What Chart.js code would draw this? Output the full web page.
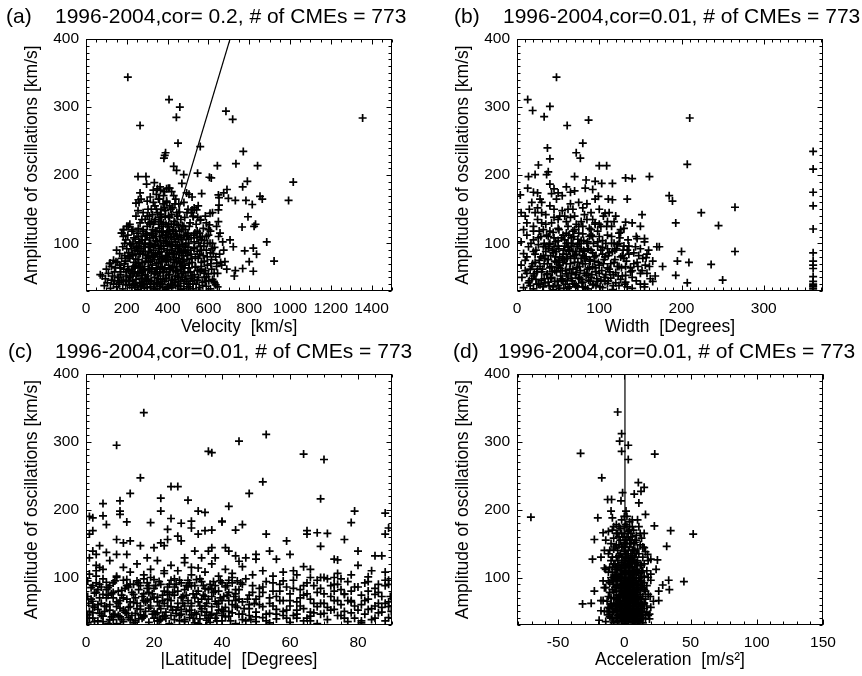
<!DOCTYPE html>
<html>
<head>
<meta charset="utf-8">
<script src="https://cdn.jsdelivr.net/npm/chart.js@4.4.1/dist/chart.umd.min.js"></script>
<style>
  html, body { margin: 0; padding: 0; background: #fff; }
  #wrap { position: relative; width: 862px; height: 676px; background: #fff; }
  canvas { position: absolute; }
</style>
</head>
<body>
<div id="wrap">
  <canvas id="ca" width="431" height="338" style="left:0;top:0"></canvas>
  <canvas id="cb" width="431" height="338" style="left:431px;top:0"></canvas>
  <canvas id="cc" width="431" height="338" style="left:0;top:338px"></canvas>
  <canvas id="cd" width="431" height="338" style="left:431px;top:338px"></canvas>
</div>
<script>
// ---------------- DATA ----------------
const ampTicks = [100, 200, 300, 400];
const velocityTicks = [0, 200, 400, 600, 800, 1000, 1200, 1400];
const widthTicks = [0, 100, 200, 300];
const latitudeTicks = [0, 20, 40, 60, 80];
const accelTicks = [-50, 0, 50, 100, 150];

// (a) velocity [km/s] vs amplitude [km/s]
const velocityAmp = [
 [205,344],[265,273],[407,311],[460,300],[443,285],[451,247],[686,294],[719,282],[1356,284],[560,242],
 [390,233],[382,225],[386,229],[771,235],[735,217],[841,214],[644,214],[1016,190],[993,163],[791,191],
 [768,183],[691,179],[675,174],[605,197],[614,196],[547,203],[479,201],[470,188],[430,213],[444,207],
 [255,198],[294,198],[335,189],[297,187],[493,174],[567,173],[652,167],[698,166],[732,163],[784,163],
 [853,169],[815,157],[864,165],[794,139],[831,128],[824,125],[765,124],[886,102],[922,74],[778,89],
 [820,93],[836,84],[800,73],[820,59],[768,63],[732,60],[727,52],[722,95],[706,105],[657,115],
 [608,144],[605,127],[649,132],[652,156],[649,149],[649,171],[542,149],[526,139],[520,149],[562,134],
 [556,115],[565,105],[608,100],[624,85],[641,71],[665,68],[681,73],[627,44],[636,39],[591,51],[565,66],[510,36],
 [70,54],[118,71],[147,73],[175,115],[183,120],[207,125],[245,159],[257,164],[265,174],[330,178],[363,183],[404,181],[420,176],
 [350,180],[365,178],[385,176],[395,180],[410,181],[430,170],[505,172],[520,168],[270,165],[260,160],[300,162],[315,168],
 [330,160],[345,172],[360,165],[378,158],[395,162],[410,155],[440,165],[455,158],[480,160],[500,150],[530,152],[550,155],
 [215,128],[230,120],[245,140],[255,148],[265,130],[280,145],[290,135],[300,125],[310,140],[320,150],[330,128],[340,135],
 [350,145],[360,122],[370,138],[380,130],[390,148],[400,125],[410,138],[420,142],[430,128],[450,140],[465,135],[480,125],
 [495,145],[510,130],[525,140],[540,128],[560,135],[575,122],[590,130],[600,120],[620,145],[640,125],[185,120],[200,125],
 [175,115],[183,110],[195,105],[205,112],[215,100],[225,118],[235,108],[250,115],[260,102],[270,110],[280,118],[290,105],
 [300,112],[310,100],[320,115],[330,108],[340,118],[350,102],[360,110],[370,116],[380,104],[390,112],[400,100],[410,118],
 [420,108],[430,114],[440,102],[450,110],[460,118],[470,105],[480,112],[490,100],[500,115],[515,108],[530,102],[545,118],
 [560,110],[580,104],[600,112],[620,100],[650,110],[670,102],
 [150,90],[165,85],[180,95],[190,82],[200,92],[210,86],[220,98],[230,82],[240,90],[250,96],[260,84],[270,92],
 [280,88],[290,98],[300,82],[310,94],[320,86],[330,90],[340,98],[350,84],[360,92],[370,88],[380,96],[390,82],
 [400,90],[410,86],[420,98],[430,84],[440,92],[450,88],[460,96],[470,82],[480,90],[490,86],[500,94],[515,84],
 [530,92],[545,88],[560,96],[575,82],[590,90],[610,86],[630,94],[655,84],[675,90],
 [100,62],[115,70],[125,66],[135,75],[145,64],[155,72],[165,68],[175,78],[185,62],[195,74],[205,66],[215,78],
 [225,62],[235,72],[245,68],[255,76],[265,64],[275,72],[285,66],[295,78],[305,62],[315,74],[325,68],[335,76],
 [345,64],[355,72],[365,66],[375,78],[385,62],[395,74],[405,68],[415,76],[425,64],[435,72],[445,66],[455,78],
 [465,62],[475,74],[485,68],[495,76],[505,64],[520,72],[535,66],[550,78],[565,62],[580,74],[595,68],[615,76],
 [640,66],[660,72],[690,62],
 [80,52],[95,48],[110,56],[125,46],[140,58],[155,50],[170,54],[185,46],[200,58],[215,50],[230,55],[245,47],
 [260,57],[275,49],[290,54],[305,46],[320,58],[335,50],[350,55],[365,47],[380,57],[395,49],[410,54],[425,46],
 [440,58],[455,50],[470,55],[485,47],[500,57],[515,49],[530,54],[545,46],[560,58],[580,50],[600,55],[620,47],[645,56],
 [90,38],[105,42],[120,34],[135,40],[150,36],[165,43],[180,33],[195,39],[210,44],[225,35],[240,41],[255,32],
 [270,38],[285,44],[300,35],[315,40],[330,33],[345,42],[360,37],[375,44],[390,32],[405,39],[420,35],[435,43],
 [450,38],[465,32],[480,41],[495,36],[510,44],[525,33],[540,40],[555,35],[570,43],[590,37],[610,33],[630,42],[645,36],
 [260,95],[275,105],[290,88],[305,72],[318,100],[332,82],[342,58],[355,95],[368,78],[378,52],[388,108],[398,80],
 [408,62],[418,90],[428,76],[438,52],[448,98],[458,70],[468,88],[478,58],[300,140],[320,132],[345,150],[365,143],
 [385,152],[405,140],[425,152],[445,145],[280,120],[372,125],[402,118],[432,132],[355,165],[380,170],
 [228,45],[236,58],[244,77],[252,88],[262,42],[268,66],[276,53],[284,95],[292,74],[298,47],[306,88],[312,61],
 [318,36],[324,79],[328,112],[336,55],[338,97],[346,70],[352,42],[358,86],[362,58],[366,104],[372,73],[376,35],
 [382,92],[386,64],[392,48],[396,116],[402,77],[406,54],[412,98],[416,40],[422,84],[426,66],[432,106],[436,47],
 [442,79],[446,60],[452,93],[456,37],[462,72],[466,108],[472,50],[476,86],[484,64],[488,120],[494,44],[498,82],
 [504,100],[512,58],[518,78],[524,40],[532,94],[538,65],[544,108],[552,50],[558,84],[566,72],[572,38],[578,96],
 [586,60],[594,80],[602,45],[612,70],[618,92],[628,56],[636,80],
 [160,40],[168,58],[176,45],[188,70],[196,52],[206,80],[214,38],[222,92],[232,66],[242,106],[248,52],[256,122],
 [266,85],[274,135],[282,60],[296,115],[304,150],[314,128],[326,142],[338,155],[348,118],[358,138],[368,150],[376,112],
 [388,140],[396,160],[406,128],[416,150],[426,120],[436,158],[446,128],[458,146],[470,120],[484,138],[492,110],[506,125],
 [516,145],[534,115],[548,138],[570,110],[585,140],[610,118],
 [240,35],[266,36],[294,40],[322,45],[348,33],[374,40],[398,34],[426,38],[454,44],[478,33],[502,40],[532,46],
 [558,31],[584,44],[230,100],[258,110],[286,100],[312,108],[342,104],[364,96],[394,102],[422,96],[444,112],[474,98],
 [502,106],[528,112],[553,100],[590,110],
 [252,38],[258,70],[264,100],[270,48],[278,84],[286,34],[288,62],[294,112],[302,52],[308,80],[314,44],[316,96],
 [322,64],[326,120],[334,40],[340,84],[344,110],[348,62],[354,48],[356,128],[362,80],[366,40],[370,96],[374,62],
 [378,118],[384,44],[388,76],[392,100],[396,58],[400,36],[404,110],[408,84],[414,62],[418,128],[420,46],[424,98],
 [428,60],[434,84],[438,118],[440,38],[446,74],[450,52],[454,106],[460,86],[464,44],[468,66],[472,126],[480,76],
 [486,96],[490,52],[496,112],[506,70],[512,90],[520,52],[536,80],[546,60],[566,90],[580,56],[596,100],[616,62],
 [220,52],[228,84],[234,40],[240,64],[246,94],[254,56],[272,58],[280,40],[310,130],[336,132],[364,132],[392,128],
 [415,110],[454,126],[488,88],[200,45],[210,60],[190,100],[170,64],[160,50],[130,52],[140,45]
];
const velocityFit = [[336,30],[706,400]];

// (b) width [deg] vs amplitude
const widthAmp = [
 [48,344],[13,311],[19,295],[40,301],[33,286],[61,273],[87,281],[210,284],[207,216],[80,247],
 [37,240],[40,224],[72,233],[77,225],[26,215],[100,214],[109,214],[14,198],[22,201],[38,205],
 [36,201],[70,198],[84,193],[95,191],[103,188],[116,188],[132,196],[140,195],[161,198],[4,171],
 [13,181],[25,174],[40,187],[42,173],[50,174],[60,183],[70,177],[83,181],[92,179],[99,169],
 [111,165],[116,164],[134,165],[185,170],[189,162],[224,145],[265,153],[245,126],[193,130],[265,88],
 [236,69],[250,46],[209,72],[207,42],[195,74],[200,88],[193,53],[177,66],[173,95],[161,66],
 [157,79],[165,44],[155,107],[152,142],[150,125],[146,107],[124,115],[126,120],[118,132],[132,131],
 [107,144],[95,130],
 [360,235],[360,209],[360,175],[360,155],[360,121],[360,86],[360,74],[360,68],[360,63],[360,51],
 [360,44],[360,40],[360,36],[360,33],[360,38],
 [10,140],[15,150],[20,125],[25,135],[30,145],[35,128],[40,155],[45,138],[50,122],[55,148],[60,132],[65,158],
 [70,140],[75,125],[80,152],[85,135],[90,145],[95,128],[100,150],[110,132],[120,140],[130,122],[140,130],[18,160],
 [28,165],[48,165],[58,140],[68,150],[78,132],[88,122],[62,125],
 [5,102],[12,112],[20,105],[27,118],[33,100],[38,110],[44,116],[50,104],[56,112],[62,100],[68,118],[74,106],
 [80,114],[86,102],[92,110],[98,118],[104,104],[110,112],[118,100],[126,116],[135,105],[145,110],[155,102],
 [8,85],[14,95],[20,88],[26,98],[32,82],[38,92],[44,86],[50,96],[56,84],[62,94],[68,88],[74,98],
 [80,82],[86,92],[92,86],[98,96],[104,84],[110,92],[116,88],[122,98],[128,82],[134,90],[142,86],[150,92],
 [158,84],[170,95],
 [5,68],[10,75],[16,62],[22,72],[28,66],[34,78],[40,64],[46,74],[52,68],[58,76],[64,62],[70,72],
 [76,66],[82,78],[88,64],[94,74],[100,68],[106,76],[112,62],[118,72],[124,66],[130,78],[138,64],[146,72],
 [156,68],[165,74],
 [6,50],[12,56],[18,48],[24,58],[30,46],[36,54],[42,50],[48,58],[54,46],[60,55],[66,49],[72,57],
 [78,47],[84,53],[90,50],[96,58],[102,46],[108,54],[114,49],[120,57],[126,47],[132,53],[140,50],[150,56],[162,48],
 [8,35],[14,42],[20,33],[26,40],[32,36],[38,43],[44,32],[50,38],[56,44],[62,34],[68,41],[74,36],
 [80,43],[86,33],[92,39],[98,44],[104,35],[110,41],[116,32],[124,38],[132,43],[140,34],[155,40],
 [45,95],[52,80],[58,105],[64,90],[70,78],[76,100],[82,88],[48,72],[55,60],[66,108],[72,84],[88,76],
 [40,100],[35,88],[60,84],[78,92],
 [10,60],[12,80],[15,45],[17,100],[19,70],[21,55],[23,90],[24,40],[27,75],[29,110],[31,62],[33,48],
 [35,95],[37,70],[39,38],[41,82],[43,58],[45,108],[46,44],[48,88],[50,65],[51,120],[53,52],[55,78],
 [57,34],[58,96],[60,70],[61,46],[63,112],[65,80],[66,56],[68,100],[70,40],[71,88],[73,64],[75,115],
 [76,50],[78,78],[80,36],[81,104],[83,70],[85,56],[87,92],[89,44],[90,120],[92,66],[94,80],[96,38],
 [98,102],[100,56],[102,90],[105,70],[107,44],[109,125],[111,82],[113,58],[115,100],[117,38],[119,76],[121,92],
 [123,52],[125,108],[127,64],[129,90],[131,40],[133,74],[136,96],[138,58],[142,70],[145,45],[148,82],[152,60],
 [155,36],[160,90],[168,52],
 [12,130],[22,145],[32,120],[42,130],[52,140],[62,150],[72,128],[82,142],[92,135],[102,125],[112,145],[30,160],
 [55,170],[75,160],[95,165],[45,180],[65,175],[20,175],[8,120],[5,145],
 [16,38],[18,66],[20,52],[22,84],[23,47],[25,62],[26,108],[28,39],[29,80],[30,58],[32,95],[33,70],
 [34,42],[36,112],[37,55],[38,76],[39,98],[41,48],[42,66],[43,90],[44,36],[46,60],[47,80],[47,102],
 [49,44],[50,75],[51,92],[52,34],[53,63],[54,108],[55,48],[56,72],[57,90],[59,40],[59,60],[60,100],
 [61,78],[62,52],[63,88],[64,36],[65,70],[66,96],[67,45],[68,62],[69,110],[70,82],[71,54],[72,38],
 [73,95],[74,72],[75,48],[76,88],[77,60],[78,104],[79,42],[80,70],[81,90],[82,56],[83,35],[84,80],
 [85,100],[86,62],[87,46],[88,110],[89,74],[90,90],[91,54],[93,40],[93,100],[95,64],[96,82],[97,48],
 [99,72],[100,110],[101,36],[103,60],[104,94],[106,50],[107,80],[108,100],[110,64],[111,45],[112,86],[114,70],
 [115,110],[117,54],[119,90],[120,42],[122,66],[124,100],[126,80],[128,52],[130,96],[132,66],[134,36],[136,84],
 [140,60],[144,95],[147,66],[150,40],[153,78],[158,56],
 [20,118],[30,130],[40,118],[50,135],[60,115],[70,120],[80,125],[90,112],[100,128],[35,142],[65,138],[85,158],
 [25,152],[45,150],[105,140],[115,125]
];

// (c) |latitude| [deg] vs amplitude
const latitudeAmp = [
 [17,343],[9,295],[36,286],[37,284],[45,301],[53,311],[64,282],[70,274],[16,247],[13,224],
 [25,234],[27,234],[22,217],[30,214],[48,224],[52,241],[42,205],[69,216],[69,146],[79,198],
 [88,195],[5,209],[5,191],[10,213],[10,198],[10,193],[1,190],[2,188],[22,198],[25,187],
 [33,198],[35,196],[40,183],[40,182],[19,181],[12,182],[24,171],[28,180],[31,183],[31,173],
 [33,164],[35,169],[37,170],[44,170],[46,178],[53,164],[59,154],[65,164],[65,169],[68,166],
 [71,165],[76,156],[78,181],[80,139],[85,132],[87,132],[88,164],[89,173],[73,127],[74,126],
 [80,118],[83,101],[88,108],[89,96],[86,90],[78,66],[81,36],[83,53],[85,75],[87,56],
 [89,41],[73,66],[76,75],[69,100],[73,100],[75,98],[66,100],[64,116],[61,110],[60,134],
 [56,127],[54,139],[50,134],[50,127],[47,129],[45,124],[44,132],[42,139],[41,144],[37,144],
 [38,129],[34,129],[36,139],[32,139],[31,115],[29,129],[28,154],[27,161],[24,156],[23,147],
 [22,151],[20,144],[18,129],[16,147],[13,154],[12,134],[11,151],[9,156],[9,134],[6,137],
 [4,147],[3,134],[2,139],[1,129],[1,164],[2,169],[6,178],[3,110],[4,115],
 [0.5,95],[2,88],[3.5,82],[5,98],[6.5,85],[8,92],[9.5,80],[11,96],[12.5,86],[14,90],[15.5,82],[17,98],
 [18.5,88],[20,84],[21.5,94],[23,80],[24.5,90],[26,86],[27.5,96],[29,82],[30.5,92],[32,88],[33.5,98],[35,84],
 [36.5,90],[38,80],[39.5,95],[41,86],[43,92],[45,82],[47,98],[49,88],[51,84],[53,94],[55,80],[57,90],
 [59,86],[61,96],[63,82],[65,92],[67,88],[69,84],[71,98],[73,90],[75,82],[77,94],[79,86],[82,92],[85,84],[88,96],
 [0.5,72],[2,65],[3,78],[4.5,62],[6,70],[7.5,76],[9,64],[10.5,74],[12,68],[13.5,78],[15,62],[16.5,72],
 [18,66],[19.5,76],[21,64],[22.5,74],[24,68],[25.5,78],[27,62],[28.5,72],[30,66],[31.5,76],[33,64],[34.5,74],
 [36,68],[37.5,78],[39,62],[40.5,72],[42,66],[44,76],[46,64],[48,74],[50,68],[52,78],[54,62],[56,72],
 [58,66],[60,76],[62,64],[64,74],[66,68],[68,78],[70,62],[72,72],[74,66],[76,76],[78,64],[81,74],
 [83,68],[86,78],[88,62],[89.5,72],
 [1,50],[2.5,56],[4,47],[5.5,58],[7,52],[8.5,46],[10,55],[11.5,49],[13,57],[14.5,47],[16,53],[17.5,50],
 [19,58],[20.5,46],[22,54],[23.5,49],[25,57],[26.5,47],[28,53],[29.5,50],[31,58],[32.5,46],[34,54],[35.5,49],
 [37,57],[38.5,47],[40,53],[42,50],[44,58],[46,46],[48,54],[50,49],[52,57],[54,47],[56,53],[58,50],
 [60,58],[62,46],[64,54],[66,49],[68,57],[70,47],[73,53],[76,50],[79,58],[82,46],[84,54],[87,49],[89,57],
 [0.5,33],[2,40],[3.5,36],[5,43],[6.5,32],[8,38],[9.5,44],[11,35],[12.5,41],[14,33],[15.5,39],[17,44],
 [18.5,34],[20,40],[21.5,36],[23,43],[24.5,32],[26,38],[27.5,44],[29,35],[30.5,41],[32,33],[33.5,39],[35,44],
 [36.5,34],[38,40],[40,36],[42,43],[44,32],[46,38],[48,44],[50,35],[52,41],[54,33],[56,39],[58,44],
 [60,34],[62,40],[64,36],[66,43],[68,32],[71,38],[74,44],[77,35],[81,33],[85,40],[88,36],
 [1,105],[3,118],[5,112],[7,125],[9,102],[11,115],[13,108],[15,120],[17,104],[19,112],[21,125],[23,106],
 [25,118],[27,110],[29,122],[31,104],[33,114],[35,108],[37,120],[39,102],[41,112],[43,106],[46,116],[49,104],
 [52,110],[55,102],[58,108],[62,104],[66,112],[70,100],[74,106],[78,104],[84,110],
 [1,40],[2,58],[3,92],[4,70],[5,35],[6,82],[7,60],[8,45],[9,100],[10,66],[11,52],[12,88],
 [13,38],[14,75],[15,95],[16,58],[17,42],[18,84],[19,68],[20,50],[21,36],[22,90],[23,62],[24,78],
 [25,44],[26,98],[27,56],[28,70],[29,38],[30,86],[31,62],[32,48],[33,80],[34,94],[35,58],[36,40],
 [37,72],[38,88],[39,52],[40,66],[41,42],[42,96],[43,60],[44,82],[45,46],[1.5,85],[2.5,77],[3.5,53],
 [4.5,44],[6,93],[7,38],[8,70],[9,57],[10.5,81],[12,47],[13,64],[14.5,36],[16,88],[17,76],[18.5,55],
 [20,97],[21,71],[22.5,43],[24,86],[25,66],[26.5,52],[28,92],[29.5,74],[31,45],[32.5,97],[34,68],[35.5,37],
 [37,84],[38.5,61],[40,92],[41.5,74],[43,48],[44.5,95],
 [2,48],[4,90],[6,57],[8,78],[10,42],[12,97],[14,63],[16,45],[18,92],[20,70],[22,38],[24,58],
 [26,74],[28,46],[30,96],[32,70],[34,50],[36,82],[38,65],[40,44],[42,78],[44,66],[46,90],[48,60],
 [50,42],[52,86],[54,70],[56,46],[58,95],[60,66],[62,52],[64,88],[66,36],[68,96],[70,76],[72,52],
 [74,90],[76,40],[78,80],[80,52],[82,66],[84,38],[86,62],[88,88],[89.8,50],
 [0.8,62],[3,102],[5,75],[7,88],[9,32],[11,70],[13,90],[15,54],[17,66],[19,100],[21,48],[23,110],
 [25,96],[27,80],[29,58],[31,88],[33,32],[35,72],[37,46],[39,80],[41,56],[43,100],[45,68],[47,36],
 [49,78],[51,60],[53,46],[55,92],[57,66],[59,40],[61,84],[63,58],[65,76],[67,48],[69,62],[72,88],
 [75,60],[78,48],[80,86],[83,80],[86,48],[89,90],
 [0.5,45],[1.5,68],[2.5,35],[3.5,60],[4.5,86],[5.5,50],[6.5,74],[7.5,42],[8.5,95],[9.5,62],[10.5,38],[11.5,84],
 [12.5,56],[13.5,44],[14.5,70],[15.5,92],[16.5,40],[17.5,64],[18.5,78],[19.5,46],[20.5,88],[21.5,58],[22.5,66],[23.5,40],
 [24.5,75],[25.5,52],[26.5,90],[27.5,36],[28.5,62],[29.5,88],[30.5,52],[31.5,40],[32.5,76],[33.5,58],[34.5,88],[35.5,62],
 [36.5,44],[37.5,94],[38.5,36],[39.5,70],[40.5,50],[41.5,88],[42.5,36],[43.5,72],[44.5,56],[45.5,92],[46.5,54],[47.5,68],
 [48.5,38],[49.5,62],[51,72],[53,36],[55,58],[57,80],[59,52],[61,44],[63,70],[65,40],[67,62],[69,46],
 [71,56],[73,80],[75,44],[77,66],[79,40],[81,60],[83,94],[85,58],[87,72],[89,64]
];

// (d) acceleration [m/s^2] vs amplitude
const accelAmp = [
 [-5,344],[-2,312],[-3.5,301],[3,295],[-2,286],[3,274],[-33,283],[23,282],[-17,247],[10.6,240],
 [15,233],[12.6,227],[-1.3,225],[7.5,223],[11,210],[-12.6,215],[-9.6,215],[-2.5,213],[-10,198],[1.3,198],
 [-70.5,189],[-20,188],[-22.6,156],[-16,166],[-9,188],[16,193],[22.7,176],[35,169],[52,164],[32,146],
 [15,144],[17.6,134],[20,127],[25,126],[24,112],[33.5,96],[34,82],[45,94],[29,89],[26,80],
 [26,66],[19.6,72],[19,46],[19,39],[-31.5,61],[-25,62],[-22.6,80],[-24,127],[-17.6,130],[-15,114],
 [-16,95],[-15,85],[-17.6,66],[-17.6,51],[-19,37],
 [-8,158],[-5,165],[-3,172],[-1,160],[1,178],[3,168],[5,155],[7,170],[9,162],[11,175],[-10,150],[-6,178],
 [2,190],[4,182],[6,175],[-2,185],[13,158],[15,165],[0,152],[8,152],[-12,168],[-14,155],[10,185],
 [-12,135],[-10,125],[-8,142],[-6,130],[-4,148],[-2,122],[0,138],[2,128],[4,145],[6,132],[8,140],[10,125],
 [12,148],[14,130],[16,138],[-7,120],[-3,135],[1,145],[5,122],[9,135],[18,125],[-15,140],
 [-12,108],[-9,115],[-7,102],[-5,112],[-3,105],[-1,118],[1,100],[3,110],[5,116],[7,104],[9,112],[11,106],
 [13,118],[15,102],[17,110],[20,105],[-14,112],[-2,110],[2,115],[6,108],
 [-14,85],[-11,92],[-9,82],[-7,98],[-5,88],[-3,95],[-1,84],[1,92],[3,86],[5,98],[7,82],[9,90],
 [11,95],[13,85],[15,92],[17,88],[20,96],[-6,80],[0,98],[4,90],[8,95],[-2,90],[2,80],[12,100],
 [-16,66],[-12,72],[-10,62],[-8,78],[-6,68],[-4,74],[-2,62],[0,70],[2,76],[4,64],[6,72],[8,66],
 [10,78],[12,62],[14,72],[16,68],[18,75],[22,65],[-5,60],[-1,78],[3,68],[7,74],[11,70],[-3,66],[5,80],
 [-15,50],[-12,56],[-9,48],[-7,58],[-5,52],[-3,46],[-1,55],[1,49],[3,57],[5,47],[7,53],[9,50],
 [11,58],[13,46],[15,54],[17,49],[20,56],[-4,56],[0,46],[4,52],[8,58],[12,50],
 [-14,35],[-11,42],[-8,33],[-6,40],[-4,36],[-2,43],[0,32],[2,38],[4,44],[6,34],[8,41],[10,36],
 [12,43],[14,33],[16,39],[18,44],[-1,37],[3,41],[7,33],[-5,44],[11,31],
 [-6,95],[-4,102],[-2,75],[0,85],[1,62],[2,105],[3,92],[4,58],[5,88],[6,115],[7,45],[8,80],
 [9,70],[10,108],[-7,70],[-8,90],[-3,115],[-1,130],[1,125],[3,140],[5,135],[7,150],[-5,140],[-3,155],
 [0,165],[2,160],[4,170],[6,160],[-1,100],[1,35],[3,52],[5,40],[-2,50],[0,58],[2,44],[-4,85],
 [-6,115],[8,120],[10,142],[12,95],[14,110],[-9,108],[-11,78],[13,68],[15,82],[0,175],[-2,145],[6,90],
 [8,100],[-6,52],[-8,62],[4,125],[9,38],[-3,80],[11,48],
 [-10,40],[-9,55],[-8,70],[-7,85],[-6,105],[-5,125],[-4,45],[-4,65],[-3,90],[-3,50],[-2,35],[-2,100],
 [-1,65],[-1,145],[0,40],[0,78],[0,110],[0,125],[1,55],[1,85],[1,115],[1,155],[2,60],[2,95],
 [2,135],[3,35],[3,75],[3,120],[3,160],[4,48],[4,80],[4,105],[5,62],[5,72],[5,150],[6,42],
 [6,55],[6,100],[6,140],[7,65],[7,92],[7,125],[8,35],[8,50],[8,110],[9,60],[9,82],[9,122],
 [10,45],[10,68],[10,90],[11,35],[11,85],[12,58],[12,75],[12,118],[13,40],[13,95],[14,60],[14,50],
 [16,45],[16,80],[-9,95],[-10,70],[-11,55],[-12,45],[-13,65],[-7,145],[-8,120],[-5,35],[-6,60],[-2,130],
 [-1,50],[0,62],[1,72],[2,68],[-3,58],[-4,118],[5,105],[4,38],[6,82],[8,72],[-2,165],[2,150],
 [9,155],[-9,170],[12,165],[-11,140],[14,145],
 [-9,130],[-8,100],[-7,40],[-7,112],[-6,88],[-6,148],[-5,70],[-5,98],[-4,60],[-4,132],[-4,160],[-3,40],
 [-3,72],[-3,100],[-2,58],[-2,84],[-2,118],[-1,42],[-1,72],[-1,90],[-1,110],[0,50],[0,92],[0,118],
 [0,145],[1,42],[1,66],[1,80],[1,108],[1,135],[2,52],[2,72],[2,88],[2,120],[2,175],[3,46],
 [3,62],[3,82],[3,100],[3,130],[4,42],[4,70],[4,95],[4,115],[4,155],[5,52],[5,68],[5,92],
 [5,128],[5,165],[6,48],[6,64],[6,78],[6,122],[7,40],[7,58],[7,80],[7,110],[7,140],[8,45],
 [8,62],[8,88],[8,130],[9,44],[9,75],[9,100],[10,52],[10,82],[10,118],[11,62],[11,98],[11,135],
 [12,38],[12,82],[13,55],[13,108],[14,40],[14,88],[15,62],[15,120],[-10,100],[-10,58],[-11,115],[-8,50],
 [-9,40],[-12,95],[-13,50],[-6,165],[-4,175],[0,190],[17,58],[18,100],[-8,175],[6,185]
];
const accelFit = [[0.3,30],[0.5,400]];

// ---------------- DRAWING ----------------
const FONT = "'Liberation Sans', Arial, Helvetica, sans-serif";
const toXY = arr => arr.map(p => ({x: p[0], y: p[1]}));

const frameTicks = {
  id: 'frameTicks',
  afterDatasetsDraw(chart, args, o) {
    const {ctx, chartArea: ca, scales: {x, y}} = chart;
    ctx.save();
    ctx.strokeStyle = '#000';
    ctx.lineWidth = 1;
    const L = Math.round(ca.left) + 0.5, R = Math.round(ca.right) - 0.5;
    const T = Math.round(ca.top) + 0.5, B = Math.round(ca.bottom) - 0.5;
    ctx.strokeRect(L, T, R - L, B - T);
    const major = 5, minor = 3;
    ctx.beginPath();
    const xv = (v, len) => {
      const p = Math.round(x.getPixelForValue(v)) + 0.5;
      ctx.moveTo(p, B); ctx.lineTo(p, B - len);
      ctx.moveTo(p, T); ctx.lineTo(p, T + len);
    };
    const yv = (v, len) => {
      const p = Math.round(y.getPixelForValue(v)) + 0.5;
      ctx.moveTo(L, p); ctx.lineTo(L + len, p);
      ctx.moveTo(R, p); ctx.lineTo(R - len, p);
    };
    for (let v = Math.ceil(x.min / o.xMinor) * o.xMinor; v <= x.max + 1e-9; v += o.xMinor) xv(v, minor);
    o.xMajor.forEach(v => xv(v, major));
    for (let v = Math.ceil(y.min / o.yMinor) * o.yMinor; v <= y.max + 1e-9; v += o.yMinor) yv(v, minor);
    o.yMajor.forEach(v => yv(v, major));
    ctx.stroke();
    // panel title
    ctx.fillStyle = '#000';
    ctx.font = '21px ' + FONT;
    ctx.textBaseline = 'middle';
    ctx.textAlign = 'left';
    ctx.fillText(o.tag, o.tagX, o.titleY);
    ctx.fillText(o.title, o.titleX, o.titleY);
    ctx.restore();
  }
};

function makeChart(id, cfg) {
  const datasets = [{
    data: toXY(cfg.points),
    pointStyle: 'cross',
    pointRadius: 4,
    pointBorderWidth: 1.7,
    borderColor: '#000',
    backgroundColor: '#000',
    showLine: false
  }];
  if (cfg.fit) {
    datasets.push({
      data: toXY(cfg.fit),
      showLine: true,
      pointRadius: 0,
      borderColor: '#000',
      borderWidth: 1.2
    });
  }
  return new Chart(document.getElementById(id), {
    type: 'scatter',
    data: {datasets},
    options: {
      responsive: false,
      animation: false,
      events: [],
      layout: {padding: {left: 0, right: 39, top: cfg.top, bottom: 0}},
      plugins: {
        legend: {display: false},
        tooltip: {enabled: false},
        frameTicks: {
          xMajor: cfg.xTicks, xMinor: cfg.xMinor, yMajor: ampTicks, yMinor: 10,
          tag: cfg.tag, tagX: cfg.tagX, title: cfg.title, titleX: cfg.titleX, titleY: cfg.titleY
        }
      },
      scales: {
        x: {
          type: 'linear', min: cfg.xMin, max: cfg.xMax,
          grid: {display: false, drawTicks: false},
          border: {display: false},
          ticks: {color: '#000', font: {family: FONT, size: 15.5}, padding: 8, autoSkip: false, maxRotation: 0,
                  callback: v => String(v)},
          afterBuildTicks: s => { s.ticks = cfg.xTicks.map(v => ({value: v})); },
          afterFit: s => { s.height = 338 - cfg.bottom; },
          title: {display: true, text: cfg.xTitle, color: '#000', font: {family: FONT, size: 17.5},
                  padding: {top: 0, bottom: cfg.xTitlePad}}
        },
        y: {
          type: 'linear', min: 30, max: 400,
          grid: {display: false, drawTicks: false},
          border: {display: false},
          ticks: {color: '#000', font: {family: FONT, size: 15.5}, padding: 7, autoSkip: false,
                  callback: v => String(v)},
          afterBuildTicks: s => { s.ticks = ampTicks.map(v => ({value: v})); },
          afterFit: s => { s.width = 86; },
          title: {display: true, text: 'Amplitude of oscillations [km/s]', color: '#000',
                  font: {family: FONT, size: 17.5}, padding: {top: 22, bottom: 0}}
        }
      }
    },
    plugins: [frameTicks]
  });
}

makeChart('ca', {points: velocityAmp, fit: velocityFit, xMin: 0, xMax: 1500, xTicks: velocityTicks, xMinor: 50,
  xTitle: 'Velocity  [km/s]', top: 39, bottom: 291, xTitlePad: 0.5,
  tag: '(a)', tagX: 6, title: '1996-2004,cor= 0.2, # of CMEs = 773', titleX: 55, titleY: 17});
makeChart('cb', {points: widthAmp, xMin: 0, xMax: 372, xTicks: widthTicks, xMinor: 10,
  xTitle: 'Width  [Degrees]', top: 39, bottom: 291, xTitlePad: 0.5,
  tag: '(b)', tagX: 23, title: '1996-2004,cor=0.01, # of CMEs = 773', titleX: 72, titleY: 17});
makeChart('cc', {points: latitudeAmp, xMin: 0, xMax: 90, xTicks: latitudeTicks, xMinor: 5,
  xTitle: '|Latitude|  [Degrees]', top: 36, bottom: 287, xTitlePad: 5.5,
  tag: '(c)', tagX: 8, title: '1996-2004,cor=0.01, # of CMEs = 773', titleX: 55, titleY: 14.5});
makeChart('cd', {points: accelAmp, fit: accelFit, xMin: -81, xMax: 150, xTicks: accelTicks, xMinor: 10,
  xTitle: 'Acceleration  [m/s\u00B2]', top: 36, bottom: 287, xTitlePad: 5.5,
  tag: '(d)', tagX: 22, title: '1996-2004,cor=0.01, # of CMEs = 773', titleX: 67, titleY: 14.5});
</script>
</body>
</html>
